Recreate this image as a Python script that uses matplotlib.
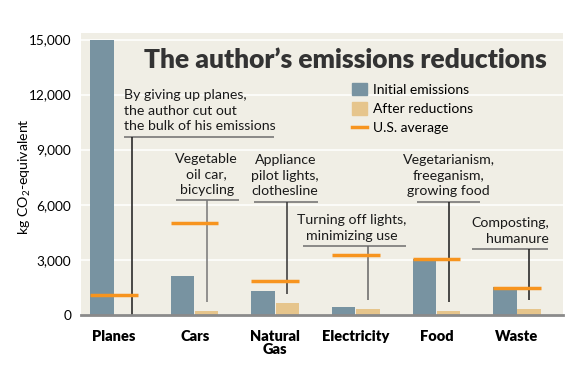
import matplotlib
matplotlib.use('Agg')
import matplotlib.pyplot as plt
import numpy as np
from matplotlib.patches import Patch
from matplotlib.lines import Line2D

plt.rcParams['font.family'] = ['Lato', 'DejaVu Sans']
plt.rcParams['mathtext.default'] = 'regular'

# data (kg CO2-equivalent)
categories = ['Planes', 'Cars', 'Natural\nGas', 'Electricity', 'Food', 'Waste']
initial = [15000, 2100, 1310, 400, 3020, 1500]
after = [0, 200, 655, 310, 200, 310]
us_avg = [1070, 5000, 1850, 3270, 3030, 1460]

notes = ['By giving up planes,\nthe author cut out\nthe bulk of his emissions',
         'Vegetable\noil car,\nbicycling',
         'Appliance\npilot lights,\nclothesline',
         'Turning off lights,\nminimizing use',
         'Vegetarianism,\nfreeganism,\ngrowing food',
         'Composting,\nhumanure']

# layout of the note boxes: (ha, text dx, line x0, line x1, line y, leader color)
note_layout = [('left', 0.124, 0.124, 1.985, 9710, '#1a1a1a'),
               ('center', 0.15, -0.236, 0.546, 6256, '#777777'),
               ('center', 0.124, -0.26, 0.533, 6165, '#333333'),
               ('center', -0.05, -0.66, 0.62, 3747, '#666666'),
               ('center', 0.15, -0.236, 0.546, 6165, '#1a1a1a'),
               ('right', 0.397, -0.558, 0.385, 3584, '#1a1a1a')]

c_init = '#7893a1'
c_after = '#e6c58c'
c_avg = '#f7941e'
bg = '#f0eee5'

fig = plt.figure(figsize=(5.88, 3.77), dpi=100)
ax = fig.add_axes([81/588, 1 - 314.7/377, (563-81)/588, (314.7-33)/377])
ax.set_facecolor(bg)

x = np.arange(len(categories))
w = 0.29
ax.bar(x - 0.15, initial, width=w, color=c_init, zorder=2)
ax.bar(x + 0.15, after, width=w, color=c_after, zorder=2)
ax.hlines(us_avg, x - 0.295, x + 0.295, color=c_avg, lw=2.5, zorder=4)

for i, (txt, lay) in enumerate(zip(notes, note_layout)):
    ha, dx, x0, x1, hy, lc = lay
    ax.text(x[i] + dx, hy + 230, txt, ha=ha, va='bottom', fontsize=10.2,
            linespacing=1.36, color='#1a1a1a', zorder=5)
    ax.hlines(hy, x[i] + x0, x[i] + x1, color='#6e6e6e', lw=1.1, zorder=3)
    bottom = after[i] + 500 if after[i] > 0 else 0
    xv = x[i] + 0.15 if i > 0 else x[i] + 0.22
    ax.vlines(xv, bottom, hy, color=lc, lw=1.1, zorder=3)

ax.set_xlim(-0.41, 5.57)
ax.set_ylim(0, 15360)
ax.set_yticks(np.arange(0, 15001, 3000))
ax.set_yticklabels([f'{v:,}' for v in range(0, 15001, 3000)], fontsize=9.8)
ax.yaxis.grid(True, color='white', lw=1.1, zorder=0)
ax.set_axisbelow(True)
ax.tick_params(axis='y', length=0, pad=7)
ax.set_xticks(x)
ax.set_xticklabels(categories, fontsize=10.5, fontweight='heavy', linespacing=1.0)
ax.tick_params(axis='x', length=0, pad=11)
for s in ['top', 'right', 'left']:
    ax.spines[s].set_visible(False)
ax.spines['bottom'].set_color('#8a8a8a')
ax.spines['bottom'].set_linewidth(2)
ax.spines['bottom'].set_zorder(6)

ax.set_ylabel('kg CO$_2$-equivalent', fontsize=10.2)
ax.yaxis.set_label_coords(-0.1, 0.49)

fig.text(144/588, 1 - 60/377, 'The author’s emissions reductions',
         fontsize=19, fontweight='heavy', color='#333333', ha='left', va='center')

handles = [Patch(color=c_init), Patch(color=c_after),
           Line2D([], [], color=c_avg, lw=2.5)]
ax.legend(handles, ['Initial emissions', 'After reductions', 'U.S. average'],
          loc='upper left', bbox_to_anchor=(352/588, 1 - 83/377),
          bbox_transform=fig.transFigure, frameon=False, fontsize=10,
          handlelength=1.05, handleheight=1.0, handletextpad=0.45,
          labelspacing=0.45, borderpad=0, borderaxespad=0)

fig.savefig('out.png', dpi=100)
